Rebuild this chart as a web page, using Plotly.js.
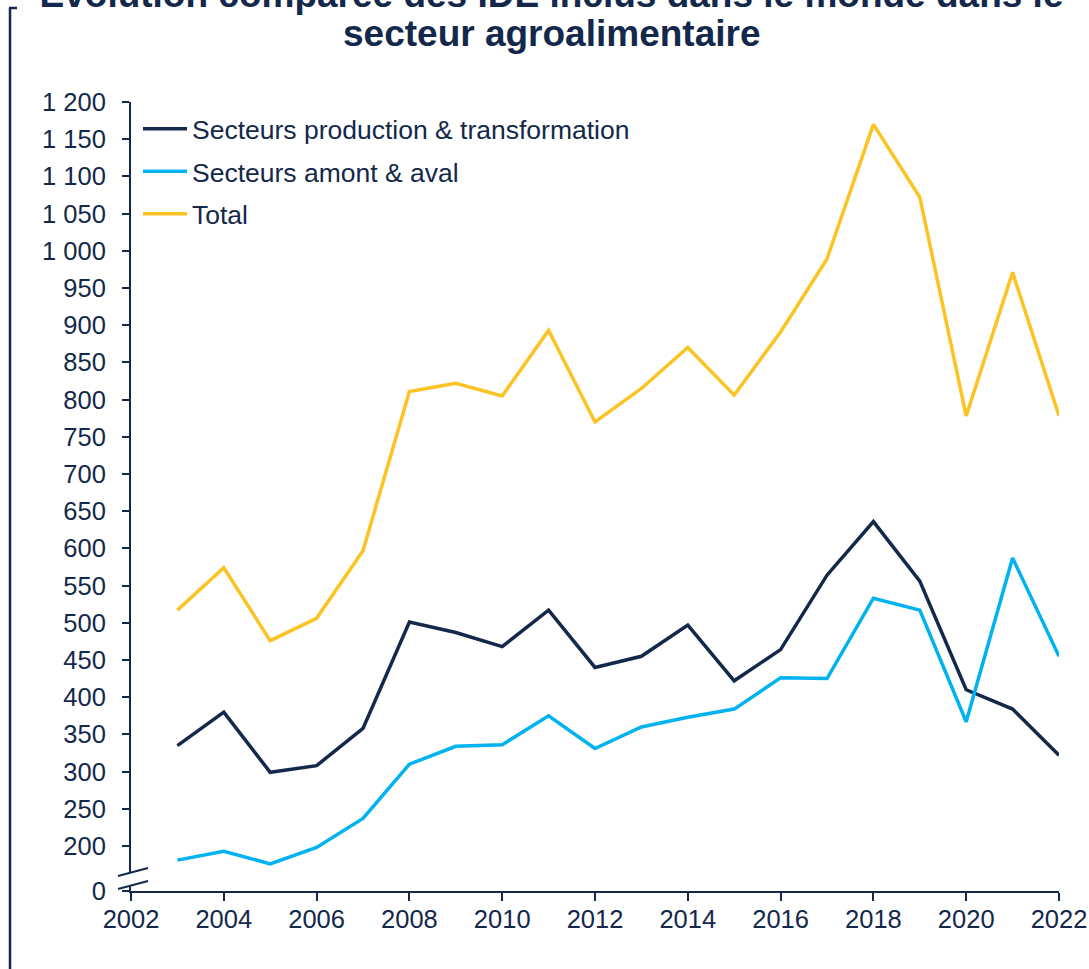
<!DOCTYPE html>
<html>
<head>
<meta charset="utf-8">
<script src="https://cdn.plot.ly/plotly-3.0.1.min.js"></script>
<style>html,body{margin:0;padding:0;background:#fff;}#chart{width:1089px;height:969px;}</style>
</head>
<body>
<div id="chart"></div>
<script>
// ---- data ----
const years = [2003, 2004, 2005, 2006, 2007, 2008, 2009, 2010, 2011, 2012, 2013, 2014, 2015, 2016, 2017, 2018, 2019, 2020, 2021, 2022];
const productionTransformation = [335, 380, 299, 308, 358, 501, 487, 468, 517, 440, 455, 497, 422, 464, 564, 636, 556, 410, 384, 322];
const amontAval = [181, 193, 176, 198, 237, 310, 334, 336, 375, 331, 360, 373, 384, 426, 425, 533, 517, 367, 587, 455];
const total = [517, 574, 476, 506, 597, 811, 822, 805, 893, 770, 815, 870, 806, 891, 989, 1170, 1072, 778, 971, 778];
const seriesNames = ["Secteurs production & transformation", "Secteurs amont & aval", "Total"];
const xTickVals = [2002, 2004, 2006, 2008, 2010, 2012, 2014, 2016, 2018, 2020, 2022];
const yBreakValue = 139.5; // position of the "0" label below the axis break
const yTickVals = [yBreakValue, 200, 250, 300, 350, 400, 450, 500, 550, 600, 650, 700, 750, 800, 850, 900, 950, 1000, 1050, 1100, 1150, 1200];
const yTickText = ["0", "200", "250", "300", "350", "400", "450", "500", "550", "600", "650", "700", "750", "800", "850", "900", "950", "1 000", "1 050", "1 100", "1 150", "1 200"];
const titleLine1 = "Évolution comparée des IDE inclus dans le monde dans le";
const titleLine2 = "secteur agroalimentaire";

// ---- style ----
const NAVY = "#13284a";
const COLORS = ["#13284a", "#00b2ef", "#fbc323"];
const FONT = "Liberation Sans, Arial, sans-serif";

const W = 1089, H = 969;
const M = {l: 131, r: 30, t: 102, b: 78};
const PW = W - M.l - M.r, PH = H - M.t - M.b;
const px = x => (x - M.l) / PW;       // pixel x -> paper
const py = y => (H - M.b - y) / PH;   // pixel y -> paper

const data = [productionTransformation, amontAval, total].map((vals, i) => ({
  type: "scatter",
  mode: "lines",
  x: years,
  y: vals,
  name: seriesNames[i],
  legendgroup: "g" + i,
  line: {color: COLORS[i], width: 3.5},
  hoverinfo: "x+y+name"
}));

const shapes = [
  // white gap across the y axis at the break
  {type: "path", xref: "paper", yref: "paper", layer: "above",
   path: `M ${px(118)} ${py(876)} L ${px(148)} ${py(868)} L ${px(148)} ${py(881)} L ${px(118)} ${py(889)} Z`,
   fillcolor: "#ffffff", line: {width: 0}},
  {type: "line", xref: "paper", yref: "paper", layer: "above",
   x0: px(118), y0: py(876), x1: px(148), y1: py(868), line: {color: NAVY, width: 2}},
  {type: "line", xref: "paper", yref: "paper", layer: "above",
   x0: px(118), y0: py(889), x1: px(148), y1: py(881), line: {color: NAVY, width: 2}},
  // left frame bracket
  {type: "line", xref: "paper", yref: "paper", layer: "above",
   x0: px(10), y0: py(8), x1: px(10), y1: py(975), line: {color: NAVY, width: 2.5}},
  {type: "line", xref: "paper", yref: "paper", layer: "above",
   x0: px(9), y0: py(8), x1: px(17), y1: py(8), line: {color: NAVY, width: 2.5}}
];

const layout = {
  width: W, height: H,
  margin: M,
  paper_bgcolor: "#ffffff",
  plot_bgcolor: "#ffffff",
  font: {family: FONT, color: NAVY, size: 25},
  title: {
    text: titleLine1,
    font: {family: FONT, size: 37, color: NAVY, weight: "bold"},
    xref: "paper", x: px(551.5), xanchor: "center",
    yref: "container", y: 1 - 7 / H, yanchor: "bottom"
  },
  annotations: [{
    text: "<b>" + titleLine2 + "</b>",
    xref: "paper", yref: "paper",
    x: px(551.5), y: py(33), xanchor: "center", yanchor: "middle",
    showarrow: false,
    font: {family: FONT, size: 37, color: NAVY}
  }],
  showlegend: true,
  legend: {
    x: px(138), y: py(105), xanchor: "left", yanchor: "top",
    bgcolor: "rgba(0,0,0,0)",
    font: {family: FONT, size: 26.5, color: NAVY},
    tracegroupgap: 5,
    itemwidth: 44,
    traceorder: "grouped"
  },
  xaxis: {
    range: [2002, 2022],
    tickvals: xTickVals,
    ticks: "outside", ticklen: 8, tickwidth: 2, tickcolor: NAVY,
    showline: true, linecolor: NAVY, linewidth: 2,
    showgrid: false, zeroline: false,
    tickfont: {family: FONT, size: 25.5, color: NAVY},
    ticklabelstandoff: -4
  },
  yaxis: {
    range: [yBreakValue, 1200],
    tickvals: yTickVals,
    ticktext: yTickText,
    ticks: "outside", ticklen: 7, tickwidth: 2, tickcolor: NAVY,
    showline: true, linecolor: NAVY, linewidth: 2,
    showgrid: false, zeroline: false,
    tickfont: {family: FONT, size: 25.5, color: NAVY},
    ticklabelstandoff: 11
  },
  shapes: shapes
};

Plotly.newPlot("chart", data, layout, {displayModeBar: false, staticPlot: true});
</script>
</body>
</html>
